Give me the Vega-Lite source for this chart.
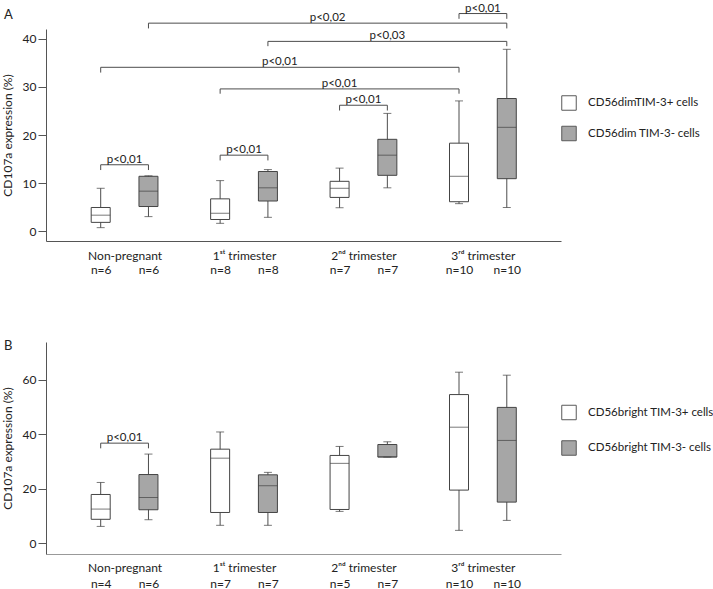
{
  "$schema": "https://vega.github.io/schema/vega-lite/v6.json",
  "background": "white",
  "padding": {"left": 1, "top": 2, "right": 0, "bottom": 0},
  "autosize": {"type": "pad"},
  "spacing": 64,
  "config": {
    "view": {"stroke": null},
    "font": "Lato",
    "axis": {"labelFont": "Lato", "titleFont": "Lato", "labelColor": "#222222", "titleColor": "#222222", "domainColor": "#555555", "tickColor": "#555555", "grid": false, "labelFontSize": 12, "titleFontSize": 12, "titleFontWeight": "normal"},
    "legend": {"orient": "none", "title": null, "symbolType": "square", "symbolSize": 210, "symbolStrokeColor": "#595959", "symbolStrokeWidth": 1, "labelFont": "Lato", "labelFontSize": 11.5, "labelColor": "#222222", "labelOffset": 11, "padding": 0},
    "title": {"font": "Lato", "fontSize": 13, "fontWeight": "normal", "color": "#222222", "anchor": "start", "frame": "bounds", "dx": 3}
  },
  "resolve": {"scale": {"x": "independent", "y": "independent", "fill": "independent"}},
  "datasets": {
    "boxA": [
      {"group": "Non-pregnant", "type": "CD56dimTIM-3+ cells", "pos": 1, "min": 0.7, "q1": 1.8, "median": 3.3, "q3": 4.9, "max": 8.9},
      {"group": "Non-pregnant", "type": "CD56dim TIM-3- cells", "pos": 2, "min": 3.0, "q1": 5.1, "median": 8.3, "q3": 11.4, "max": 11.5},
      {"group": "1st trimester", "type": "CD56dimTIM-3+ cells", "pos": 3.5, "min": 1.6, "q1": 2.4, "median": 3.7, "q3": 6.7, "max": 10.5},
      {"group": "1st trimester", "type": "CD56dim TIM-3- cells", "pos": 4.5, "min": 2.85, "q1": 6.25, "median": 9.0, "q3": 12.4, "max": 12.8},
      {"group": "2nd trimester", "type": "CD56dimTIM-3+ cells", "pos": 6, "min": 4.85, "q1": 7.0, "median": 8.9, "q3": 10.35, "max": 13.1},
      {"group": "2nd trimester", "type": "CD56dim TIM-3- cells", "pos": 7, "min": 9.0, "q1": 11.6, "median": 15.8, "q3": 19.1, "max": 24.5},
      {"group": "3rd trimester", "type": "CD56dimTIM-3+ cells", "pos": 8.5, "min": 5.7, "q1": 6.1, "median": 11.4, "q3": 18.3, "max": 27.1},
      {"group": "3rd trimester", "type": "CD56dim TIM-3- cells", "pos": 9.5, "min": 4.9, "q1": 10.9, "median": 21.6, "q3": 27.6, "max": 37.85}
    ],
    "bracketsA": [
      {"x1": 1, "x2": 2, "xm": 1.5, "y": 13.8, "ylow": 12.7, "label": "p<0,01"},
      {"x1": 3.5, "x2": 4.5, "xm": 4, "y": 15.8, "ylow": 14.7, "label": "p<0,01"},
      {"x1": 6, "x2": 7, "xm": 6.5, "y": 26.2, "ylow": 25.1, "label": "p<0,01"},
      {"x1": 3.5, "x2": 8.5, "xm": 6, "y": 29.6, "ylow": 28.6, "label": "p<0,01"},
      {"x1": 1, "x2": 8.5, "xm": 4.75, "y": 34.1, "ylow": 33.0, "label": "p<0,01"},
      {"x1": 4.5, "x2": 9.5, "xm": 7, "y": 39.5, "ylow": 38.5, "label": "p<0,03"},
      {"x1": 2, "x2": 9.5, "xm": 5.75, "y": 43.3, "ylow": 42.2, "label": "p<0,02"},
      {"x1": 8.5, "x2": 9.5, "xm": 9, "y": 45.3, "ylow": 44.2, "label": "p<0,01"}
    ],
    "boxB": [
      {"group": "Non-pregnant", "type": "CD56bright TIM-3+ cells", "pos": 1, "min": 6.2, "q1": 8.8, "median": 12.55, "q3": 17.9, "max": 22.3},
      {"group": "Non-pregnant", "type": "CD56bright TIM-3- cells", "pos": 2, "min": 8.65, "q1": 12.3, "median": 16.8, "q3": 25.2, "max": 32.7},
      {"group": "1st trimester", "type": "CD56bright TIM-3+ cells", "pos": 3.5, "min": 6.6, "q1": 11.3, "median": 31.2, "q3": 34.5, "max": 40.8},
      {"group": "1st trimester", "type": "CD56bright TIM-3- cells", "pos": 4.5, "min": 6.6, "q1": 11.3, "median": 21.1, "q3": 25.1, "max": 26.0},
      {"group": "2nd trimester", "type": "CD56bright TIM-3+ cells", "pos": 6, "min": 11.7, "q1": 12.4, "median": 29.3, "q3": 32.2, "max": 35.5},
      {"group": "2nd trimester", "type": "CD56bright TIM-3- cells", "pos": 7, "min": 31.6, "q1": 31.6, "median": 31.7, "q3": 36.2, "max": 37.2},
      {"group": "3rd trimester", "type": "CD56bright TIM-3+ cells", "pos": 8.5, "min": 4.75, "q1": 19.5, "median": 42.55, "q3": 54.5, "max": 62.7},
      {"group": "3rd trimester", "type": "CD56bright TIM-3- cells", "pos": 9.5, "min": 8.4, "q1": 15.1, "median": 37.7, "q3": 49.8, "max": 61.6}
    ],
    "bracketsB": [
      {"x1": 1, "x2": 2, "xm": 1.5, "y": 36.7, "ylow": 34.8, "label": "p<0,01"}
    ]
  },
  "vconcat": [
    {
      "width": 515,
      "height": 212,
      "title": {"text": "A", "offset": -19},
      "layer": [
        {
          "data": {"name": "boxA"},
          "mark": {"type": "rule", "color": "#4d4d4d", "strokeWidth": 1},
          "encoding": {
            "x": {"field": "pos", "type": "quantitative", "scale": {"domain": [-0.04, 10.53], "nice": false, "zero": false},
              "axis": {"values": [1, 1.5, 2, 3.5, 4, 4.5, 6, 6.5, 7, 8.5, 9, 9.5], "ticks": false, "tickSize": 0, "title": null, "labelFlush": false, "labelOverlap": false, "labelPadding": 9, "labelLineHeight": 14.3, "labelBaseline": "top", "labelAlign": "center",
                "labelExpr": "[['','n=6'],['Non-pregnant',''],['','n=6'],['','n=8'],['1\u02e2\u1d57 trimester',''],['','n=8'],['','n=7'],['2\u207f\u1d48 trimester',''],['','n=7'],['','n=10'],['3\u02b3\u1d48 trimester',''],['','n=10']][indexof([1,1.5,2,3.5,4,4.5,6,6.5,7,8.5,9,9.5], datum.value)]"}},
            "y": {"field": "min", "type": "quantitative", "scale": {"domain": [-2.08, 42.08], "nice": false, "zero": false},
              "axis": {"values": [0, 10, 20, 30, 40], "tickSize": 8, "labelPadding": 2, "titlePadding": 8, "title": "CD107a expression (%)"}},
            "y2": {"field": "max"}
          }
        },
        {
          "data": {"name": "boxA"},
          "mark": {"type": "bar", "size": 19, "stroke": "#444444", "strokeWidth": 1},
          "encoding": {
            "x": {"field": "pos", "type": "quantitative"},
            "y": {"field": "q1", "type": "quantitative"},
            "y2": {"field": "q3"},
            "fill": {"field": "type", "type": "nominal", "scale": {"domain": ["CD56dimTIM-3+ cells", "CD56dim TIM-3- cells"], "range": ["#ffffff", "#a6a6a6"]},
              "legend": {"legendX": 515, "legendY": 66, "rowPadding": 10.5}}
          }
        },
        {
          "data": {"name": "boxA"},
          "mark": {"type": "tick", "orient": "horizontal", "size": 19, "thickness": 1, "color": "#404040"},
          "encoding": {"x": {"field": "pos", "type": "quantitative"}, "y": {"field": "median", "type": "quantitative"}}
        },
        {
          "data": {"name": "boxA"},
          "mark": {"type": "tick", "orient": "horizontal", "size": 8, "thickness": 1, "color": "#404040"},
          "encoding": {"x": {"field": "pos", "type": "quantitative"}, "y": {"field": "min", "type": "quantitative"}}
        },
        {
          "data": {"name": "boxA"},
          "mark": {"type": "tick", "orient": "horizontal", "size": 8, "thickness": 1, "color": "#404040"},
          "encoding": {"x": {"field": "pos", "type": "quantitative"}, "y": {"field": "max", "type": "quantitative"}}
        },
        {
          "data": {"name": "bracketsA"},
          "mark": {"type": "rule", "color": "#4d4d4d", "strokeWidth": 1},
          "encoding": {"x": {"field": "x1", "type": "quantitative"}, "x2": {"field": "x2"}, "y": {"field": "y", "type": "quantitative"}}
        },
        {
          "data": {"name": "bracketsA"},
          "mark": {"type": "rule", "color": "#4d4d4d", "strokeWidth": 1},
          "encoding": {"x": {"field": "x1", "type": "quantitative"}, "y": {"field": "y", "type": "quantitative"}, "y2": {"field": "ylow"}}
        },
        {
          "data": {"name": "bracketsA"},
          "mark": {"type": "rule", "color": "#4d4d4d", "strokeWidth": 1},
          "encoding": {"x": {"field": "x2", "type": "quantitative"}, "y": {"field": "y", "type": "quantitative"}, "y2": {"field": "ylow"}}
        },
        {
          "data": {"name": "bracketsA"},
          "mark": {"type": "text", "baseline": "bottom", "align": "center", "font": "Lato", "fontSize": 11.5, "color": "#222222", "dy": 0},
          "encoding": {"x": {"field": "xm", "type": "quantitative"}, "y": {"field": "y", "type": "quantitative"}, "text": {"field": "label"}}
        }
      ]
    },
    {
      "width": 515,
      "height": 212,
      "title": {"text": "B", "offset": -11},
      "layer": [
        {
          "data": {"name": "boxB"},
          "mark": {"type": "rule", "color": "#4d4d4d", "strokeWidth": 1},
          "encoding": {
            "x": {"field": "pos", "type": "quantitative", "scale": {"domain": [-0.04, 10.53], "nice": false, "zero": false},
              "axis": {"values": [1, 1.5, 2, 3.5, 4, 4.5, 6, 6.5, 7, 8.5, 9, 9.5], "ticks": false, "tickSize": 0, "title": null, "domainColor": "#999999", "labelFlush": false, "labelOverlap": false, "labelPadding": 8, "labelLineHeight": 16, "labelBaseline": "top", "labelAlign": "center",
                "labelExpr": "[['','n=4'],['Non-pregnant',''],['','n=6'],['','n=7'],['1\u02e2\u1d57 trimester',''],['','n=7'],['','n=5'],['2\u207f\u1d48 trimester',''],['','n=7'],['','n=10'],['3\u02b3\u1d48 trimester',''],['','n=10']][indexof([1,1.5,2,3.5,4,4.5,6,6.5,7,8.5,9,9.5], datum.value)]"}},
            "y": {"field": "min", "type": "quantitative", "scale": {"domain": [-3.91, 73.76], "nice": false, "zero": false},
              "axis": {"values": [0, 20, 40, 60], "tickSize": 8, "labelPadding": 2, "titlePadding": 8, "title": "CD107a expression (%)"}},
            "y2": {"field": "max"}
          }
        },
        {
          "data": {"name": "boxB"},
          "mark": {"type": "bar", "size": 19, "stroke": "#444444", "strokeWidth": 1},
          "encoding": {
            "x": {"field": "pos", "type": "quantitative"},
            "y": {"field": "q1", "type": "quantitative"},
            "y2": {"field": "q3"},
            "fill": {"field": "type", "type": "nominal", "scale": {"domain": ["CD56bright TIM-3+ cells", "CD56bright TIM-3- cells"], "range": ["#ffffff", "#a6a6a6"]},
              "legend": {"legendX": 515, "legendY": 62.5, "rowPadding": 15.5}}
          }
        },
        {
          "data": {"name": "boxB"},
          "mark": {"type": "tick", "orient": "horizontal", "size": 19, "thickness": 1, "color": "#404040"},
          "encoding": {"x": {"field": "pos", "type": "quantitative"}, "y": {"field": "median", "type": "quantitative"}}
        },
        {
          "data": {"name": "boxB"},
          "mark": {"type": "tick", "orient": "horizontal", "size": 8, "thickness": 1, "color": "#404040"},
          "encoding": {"x": {"field": "pos", "type": "quantitative"}, "y": {"field": "min", "type": "quantitative"}}
        },
        {
          "data": {"name": "boxB"},
          "mark": {"type": "tick", "orient": "horizontal", "size": 8, "thickness": 1, "color": "#404040"},
          "encoding": {"x": {"field": "pos", "type": "quantitative"}, "y": {"field": "max", "type": "quantitative"}}
        },
        {
          "data": {"name": "bracketsB"},
          "mark": {"type": "rule", "color": "#4d4d4d", "strokeWidth": 1},
          "encoding": {"x": {"field": "x1", "type": "quantitative"}, "x2": {"field": "x2"}, "y": {"field": "y", "type": "quantitative"}}
        },
        {
          "data": {"name": "bracketsB"},
          "mark": {"type": "rule", "color": "#4d4d4d", "strokeWidth": 1},
          "encoding": {"x": {"field": "x1", "type": "quantitative"}, "y": {"field": "y", "type": "quantitative"}, "y2": {"field": "ylow"}}
        },
        {
          "data": {"name": "bracketsB"},
          "mark": {"type": "rule", "color": "#4d4d4d", "strokeWidth": 1},
          "encoding": {"x": {"field": "x2", "type": "quantitative"}, "y": {"field": "y", "type": "quantitative"}, "y2": {"field": "ylow"}}
        },
        {
          "data": {"name": "bracketsB"},
          "mark": {"type": "text", "baseline": "bottom", "align": "center", "font": "Lato", "fontSize": 11.5, "color": "#222222", "dy": 0},
          "encoding": {"x": {"field": "xm", "type": "quantitative"}, "y": {"field": "y", "type": "quantitative"}, "text": {"field": "label"}}
        }
      ]
    }
  ]
}
